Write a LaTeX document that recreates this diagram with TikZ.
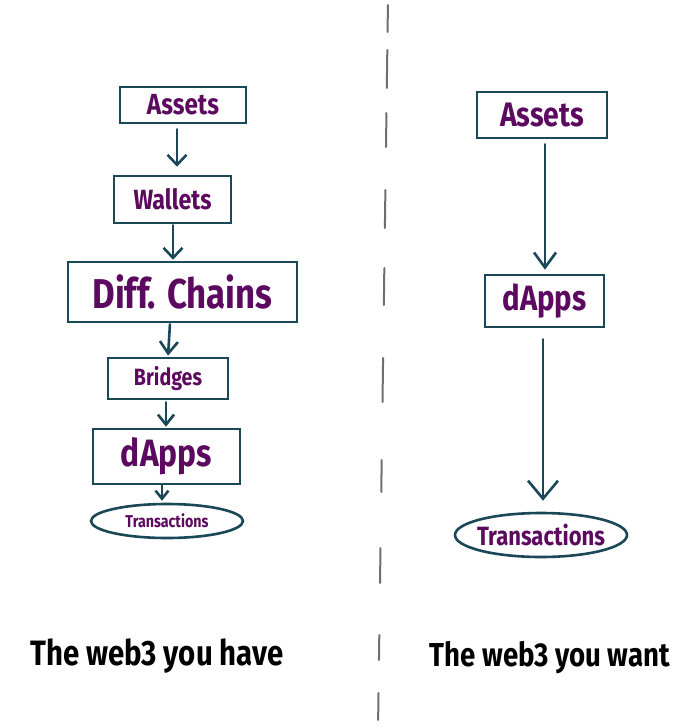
\documentclass[tikz,border=0pt]{standalone}
\usepackage{fontspec}
\setmainfont{Fira Sans}
\usetikzlibrary{arrows.meta,shapes.geometric}
\definecolor{strk}{HTML}{1B4856}
\definecolor{txt}{HTML}{5C0A60}
\definecolor{dsh}{HTML}{555555}
\newcommand{\fitw}[2]{\scalebox{1}[1.2]{\resizebox{#1pt}{!}{\bfseries #2}}}
\begin{document}
\begin{tikzpicture}[x=1pt,y=-1pt,
  box/.style={draw=strk,line width=2.6pt,rectangle,inner sep=0pt,text=txt,fill=white},
  oval/.style={draw=strk,line width=2.6pt,ellipse,inner sep=0pt,text=txt,fill=white},
  arr/.style={draw=strk,line width=2.6pt,line cap=round},
  captext/.style={inner sep=0pt,text=black}]
\useasboundingbox (0,0) rectangle (700,728);
\fill[white] (0,0) rectangle (700,728);
% divider
\foreach \a/\b in {5/32,50/88,113/147,190/228,268/305,358/402,460/492,548/583,635/660,693/720}
  \draw[dsh,line width=2pt,line cap=round,opacity=0.85] ({388-0.0137*\a},\a) -- ({388-0.0137*\b},\b);
% left column
\node[box,minimum width=126pt,minimum height=36pt] (L1) at (183,105) {\fitw{72}{Assets}};
\node[box,minimum width=117pt,minimum height=47pt] (L2) at (172.5,199.5) {\fitw{78}{Wallets}};
\node[box,minimum width=229pt,minimum height=60pt] (L3) at (182.5,292) {\fitw{180}{Diff. Chains}};
\node[box,minimum width=120pt,minimum height=41pt] (L4) at (168,378.5) {\fitw{68}{Bridges}};
\node[box,minimum width=147pt,minimum height=55pt] (L5) at (166.5,456.5) {\fitw{91}{dApps}};
\node[oval,minimum width=152pt,minimum height=34pt] (L6) at (167,521) {\makebox[0pt]{\fitw{83}{Transactions}}};
% right column
\node[box,minimum width=130pt,minimum height=46pt] (R1) at (542,115) {\fitw{84}{Assets}};
\node[box,minimum width=119pt,minimum height=52pt] (R2) at (544.5,301) {\fitw{84}{dApps}};
\node[oval,minimum width=172pt,minimum height=44pt] (R3) at (541,535) {\makebox[0pt]{\fitw{128}{Transactions}}};
% captions
\node[captext] (C1) at (157,656) {\fitw{253}{The web3 you have}};
\node[captext] (C2) at (550,658) {\fitw{240}{The web3 you want}};
% arrows
\draw[arr,-{Straight Barb[length=10pt,width=19pt]},shorten <=5pt,shorten >=8pt] ([xshift=-6pt]L1.south) -- ([xshift=4.5pt]L2.north);
\draw[arr,-{Straight Barb[length=10pt,width=19pt]},shorten <=1pt,shorten >=1pt] ([xshift=0.5pt]L2.south) -- ([xshift=-9.5pt]L3.north);
\draw[arr,-{Straight Barb[length=12pt,width=18pt]},shorten <=1pt,shorten >=1pt] ([xshift=-12.5pt]L3.south) -- (L4.north);
\draw[arr,-{Straight Barb[length=10pt,width=16pt]},shorten <=2pt,shorten >=1pt] ([xshift=-2pt]L4.south) -- ([xshift=-0.5pt]L5.north);
\draw[arr,-{Straight Barb[length=8pt,width=13pt]},shorten <=0pt,shorten >=2pt] ([xshift=-4.5pt]L5.south) -- ([xshift=-5pt]L6.north);
\draw[arr,-{Straight Barb[length=15pt,width=22pt]},shorten <=5pt,shorten >=4pt] ([xshift=3pt]R1.south) -- ([xshift=0.5pt]R2.north);
\draw[arr,-{Straight Barb[length=18pt,width=30pt]},shorten <=11pt,shorten >=11pt] ([xshift=-1.5pt]R2.south) -- ([xshift=2pt]R3.north);
\end{tikzpicture}
\end{document}
